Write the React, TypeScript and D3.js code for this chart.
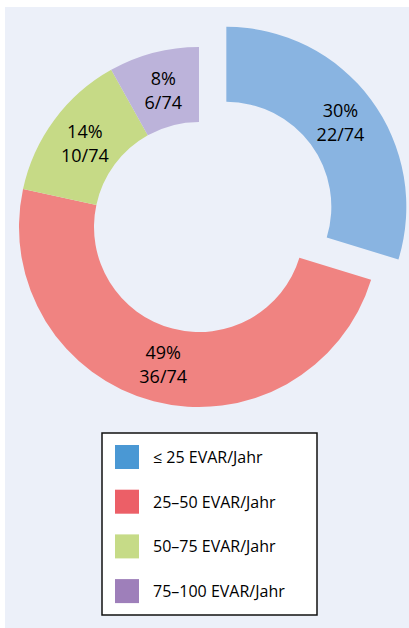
import * as d3 from 'd3'

const categories = ['≤ 25 EVAR/Jahr', '25–50 EVAR/Jahr', '50–75 EVAR/Jahr', '75–100 EVAR/Jahr']
const counts = [22, 36, 10, 6]
const total = 74
const sliceColors = ['#89b4e1', '#f08381', '#c6da86', '#bcb3da']
const legendColors = ['#4a98d4', '#ec5f67', '#c6db87', '#9e7fba']

const W = 409
const H = 628
const CX = 199
const CY = 227
const R_OUT = 180
const R_IN = 105
const EXPLODE = 34
const FONT = '"Open Sans", sans-serif'

export default function App() {
  const pie = d3.pie<number>().sort(null).value(d => d)
  const arcs = pie(counts)
  const arc = d3.arc<d3.PieArcDatum<number>>().innerRadius(R_IN).outerRadius(R_OUT)
  const labelArc = d3.arc<d3.PieArcDatum<number>>().innerRadius(142).outerRadius(142)

  // legend rows
  const rowY = d3.scaleBand().domain(categories).range([445, 445 + 4 * 44.7])

  return (
    <>
      <style>{'body{margin:0}'}</style>
      <svg width={W} height={H} style={{ display: 'block', fontFamily: FONT }}>
        <rect x={5} y={7} width={W - 5} height={H - 7} fill="#ecf0f9" />
        <g transform={`translate(${CX},${CY})`}>
          {arcs.map((a, i) => {
            const mid = (a.startAngle + a.endAngle) / 2
            const off = i === 0 ? EXPLODE : 0
            const dx = Math.sin(mid) * off
            const dy = -Math.cos(mid) * off
            const [lx, ly] = labelArc.centroid(a)
            const pct = Math.round((counts[i] / total) * 100)
            return (
              <g key={i} transform={`translate(${dx},${dy})`}>
                <path d={arc(a) || ''} fill={sliceColors[i]} />
                <text x={lx} y={ly - 12} textAnchor="middle" dominantBaseline="central" fontSize={18} fill="#000">
                  {pct}%
                </text>
                <text x={lx} y={ly + 12} textAnchor="middle" dominantBaseline="central" fontSize={18} fill="#000">
                  {counts[i]}/{total}
                </text>
              </g>
            )
          })}
        </g>
        <rect x={102} y={433} width={215} height={182} fill="#fff" stroke="#111" strokeWidth={1.5} />
        {categories.map((c, i) => {
          const y = rowY(c) as number
          return (
            <g key={c}>
              <rect x={115} y={y} width={24} height={24} fill={legendColors[i]} />
              <text x={153} y={y + 12} dominantBaseline="central" fontSize={16} fill="#000">
                {c}
              </text>
            </g>
          )
        })}
      </svg>
    </>
  )
}
